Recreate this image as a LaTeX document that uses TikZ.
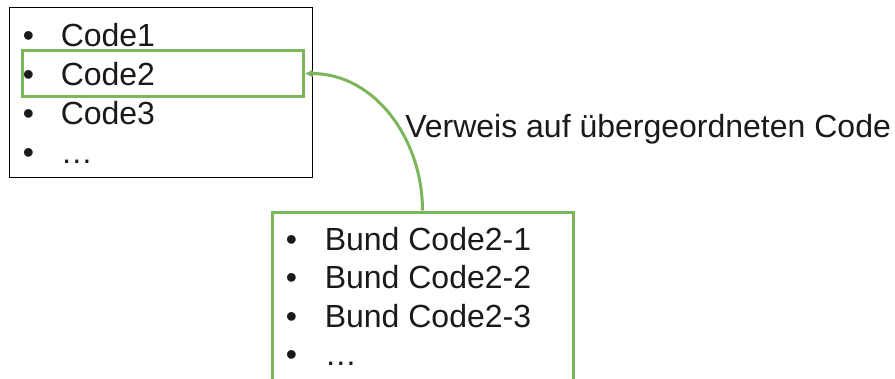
\documentclass[tikz,border=0pt]{standalone}
\usepackage{fontspec}
\setmainfont{Liberation Sans}
\usepackage{tikz}
\usetikzlibrary{arrows.meta}

\definecolor{codegreen}{RGB}{125,182,90}
\definecolor{codetext}{RGB}{26,26,26}

\begin{document}
\begin{tikzpicture}[x=0.75pt, y=-0.75pt,
        entry/.style={anchor=base west, inner sep=0pt, text=codetext, font=\fontsize{24}{29}\selectfont},
        frame/.style={draw, rectangle, inner sep=0pt},
        linkbox/.style={frame, draw=codegreen, line width=2.25pt}]
        \clip (0, 0) rectangle (895, 378);

        \node[frame, line width=0.75pt, minimum width=227.25pt, minimum height=126.75pt] (codes) at (160.5, 92.5) {};

        \node[entry] (bul1) at (22.5, 46.0) {•};
        \node[entry] (bul2) at (22.5, 85.0) {•};
        \node[entry] (bul3) at (22.5, 124.0) {•};
        \node[entry] (bul4) at (22.5, 163.0) {•};
        \node[entry] (code1) at (60.5, 46.0) {Code1};
        \node[entry] (code2) at (60.5, 85.0) {Code2};
        \node[entry] (code3) at (60.5, 124.0) {Code3};
        \node[entry] (more1) at (60.5, 163.0) {…};

        \node[linkbox, minimum width=210.75pt, minimum height=33.75pt] (ref) at (162.5, 73.5) {};

        \node[linkbox, minimum width=225.75pt, minimum height=187.5pt] (bund) at (422.5, 337.0) {};

        \node[entry] (bbul1) at (285.5, 250.0) {•};
        \node[entry] (bbul2) at (285.5, 288.5) {•};
        \node[entry] (bbul3) at (285.5, 327.0) {•};
        \node[entry] (bbul4) at (285.5, 365.5) {•};
        \node[entry] (bund1) at (324.5, 250.0) {Bund Code2-1};
        \node[entry] (bund2) at (324.5, 288.5) {Bund Code2-2};
        \node[entry] (bund3) at (324.5, 327.0) {Bund Code2-3};
        \node[entry] (more2) at (324.5, 365.5) {…};

        \draw[codegreen, line width=2.25pt, -{Latex[length=6pt, width=6pt]}] (bund.north) to[out=90, in=0] (ref.east);

        \node[entry] (label) at (405.0, 137.0) {Verweis auf übergeordneten Code};
    \end{tikzpicture}
\end{document}
